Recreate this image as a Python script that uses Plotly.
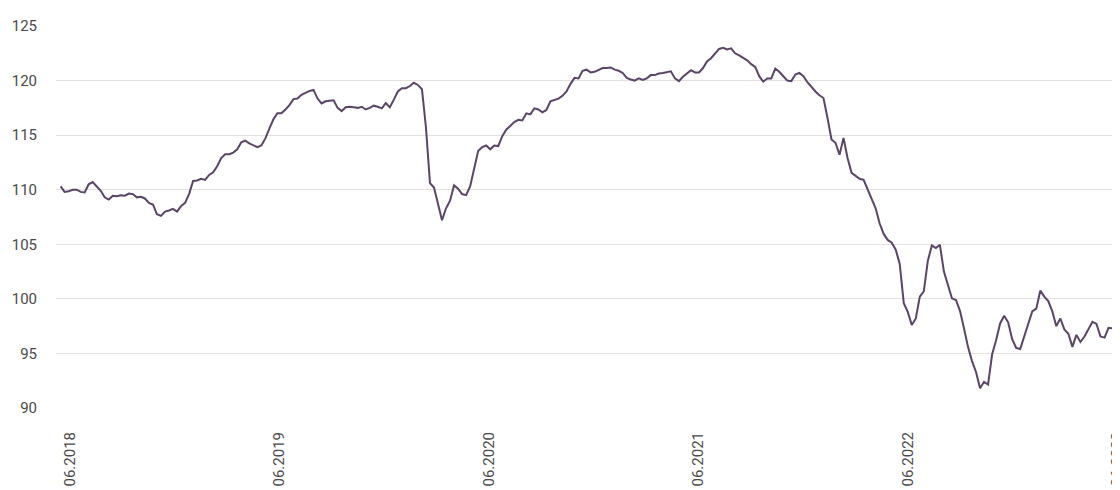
import plotly.graph_objects as go
import pandas as pd

start_date = "2018-05-16"
values = [
    110.3, 109.8, 109.85, 110.0, 110.0, 109.8, 109.75, 110.5, 110.7, 110.3,
    109.9, 109.3, 109.1, 109.45, 109.4, 109.5, 109.45, 109.65, 109.6, 109.3,
    109.35, 109.2, 108.8, 108.65, 107.75, 107.6, 108.0, 108.1, 108.25, 108.0,
    108.5, 108.8, 109.6, 110.8, 110.85, 111.0, 110.9, 111.35, 111.6, 112.15,
    112.9, 113.25, 113.25, 113.4, 113.7, 114.35, 114.5, 114.25, 114.1, 113.9,
    114.05, 114.7, 115.6, 116.45, 117.0, 117.0, 117.35, 117.75, 118.3, 118.35,
    118.7, 118.9, 119.05, 119.15, 118.35, 117.9, 118.1, 118.15, 118.2, 117.5,
    117.2, 117.55, 117.6, 117.55, 117.5, 117.6, 117.35, 117.5, 117.7, 117.6,
    117.45, 117.95, 117.55, 118.25, 119.0, 119.3, 119.3, 119.5, 119.8, 119.6,
    119.2, 115.7, 110.6, 110.2, 108.6, 107.2, 108.3, 109.0, 110.4, 110.1,
    109.6, 109.5, 110.3, 112.0, 113.55, 113.9, 114.05, 113.7, 114.05, 114.0,
    114.9, 115.5, 115.9, 116.2, 116.4, 116.35, 117.0, 116.9, 117.45, 117.35,
    117.1, 117.3, 118.1, 118.2, 118.35, 118.6, 119.0, 119.7, 120.25, 120.2,
    120.9, 121.0, 120.75, 120.8, 121.0, 121.15, 121.15, 121.2, 121.0, 120.9,
    120.7, 120.25, 120.1, 120.0, 120.2, 120.05, 120.2, 120.5, 120.5, 120.65,
    120.7, 120.75, 120.85, 120.2, 119.95, 120.35, 120.65, 120.95, 120.75, 120.75,
    121.15, 121.75, 122.05, 122.5, 122.9, 123.0, 122.85, 122.95, 122.5, 122.3,
    122.1, 121.85, 121.5, 121.25, 120.4, 119.9, 120.2, 120.2, 121.1, 120.8,
    120.4, 120.0, 119.95, 120.55, 120.7, 120.4, 119.85, 119.4, 119.0, 118.65,
    118.4, 116.6, 114.6, 114.3, 113.2, 114.75, 112.9, 111.55, 111.3, 111.0,
    110.9, 110.05, 109.3, 108.3, 106.9, 105.95, 105.4, 105.15, 104.5, 103.2,
    99.6, 98.8, 97.6, 98.2, 100.2, 100.7, 103.5, 104.9, 104.65, 104.95,
    102.5, 101.2, 100.05, 99.9, 98.9, 97.3, 95.6, 94.3, 93.3, 91.8,
    92.4, 92.15, 94.9, 96.2, 97.75, 98.45, 97.85, 96.3, 95.5, 95.4,
    96.55, 97.6, 98.85, 99.1, 100.75, 100.2, 99.8, 98.85, 97.5, 98.2,
    97.2, 96.8, 95.6, 96.7, 96.05, 96.55, 97.2, 97.9, 97.7, 96.55,
    96.45, 97.35, 97.3, 96.9, 97.2,
]
dates = pd.date_range(start_date, periods=len(values), freq="7D")

tick_dates = ["2018-06-01", "2019-06-01", "2020-06-01", "2021-06-01", "2022-06-01", "2023-06-01"]
tick_labels = ["06.2018", "06.2019", "06.2020", "06.2021", "06.2022", "06.2023"]
y_ticks = [90, 95, 100, 105, 110, 115, 120, 125]

fig = go.Figure()
fig.add_trace(go.Scatter(
    x=dates, y=values, mode="lines",
    line=dict(color="#5a4566", width=2),
    hoverinfo="skip", showlegend=False,
))

font_family = "Roboto, Liberation Sans, sans-serif"
fig.update_layout(
    width=1112, height=482,
    margin=dict(l=48, r=0, t=18, b=82),
    paper_bgcolor="white", plot_bgcolor="white",
    font=dict(family=font_family, size=15, color="#4a4a4a"),
    xaxis=dict(
        range=["2018-05-08", "2023-06-06"],
        tickvals=tick_dates, ticktext=tick_labels,
        tickangle=-90, showgrid=False, zeroline=False,
        showline=False, ticks="", ticklabelstandoff=20,
        ticklabeloverflow="allow", automargin=False,
    ),
    yaxis=dict(
        range=[90, 125], tickvals=y_ticks,
        showgrid=True, gridcolor="#e4e0dc", gridwidth=1,
        zeroline=False, showline=False, ticks="",
        ticklabelstandoff=18, automargin=False,
    ),
)

fig.write_html("out.html")
